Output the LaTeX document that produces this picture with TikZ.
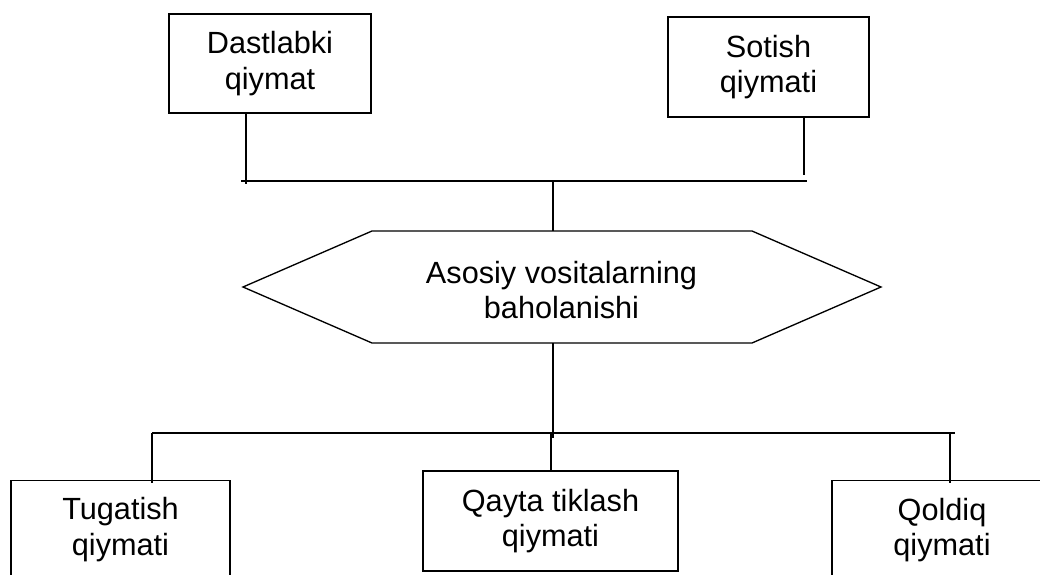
\documentclass[tikz,border=0pt]{standalone}
\usepackage{fontspec}
\setmainfont{Liberation Sans}
\begin{document}
\begin{tikzpicture}[x=0.75pt,y=-0.75pt, line width=1pt,
  box/.style={draw, rectangle, inner sep=0pt, align=center, font=\fontsize{23}{26.5}\selectfont},
  txt/.style={align=center, inner sep=0pt, font=\fontsize{23}{26.5}\selectfont}]
\useasboundingbox (0,0) rectangle (1040,575);
\clip (0,0) rectangle (1040,575);
% top boxes
\node[box, minimum width=151.5pt, minimum height=74.25pt] (dq) at (270,63.5) {Dastlabki\\qiymat};
\node[box, minimum width=150.75pt, minimum height=75pt] (sq) at (768.5,67) {Sotish\\qiymati};
% hexagon
\coordinate (h1) at (243,287);
\coordinate (h2) at (372,231);
\coordinate (h3) at (752,231);
\coordinate (h4) at (881,287);
\coordinate (h5) at (752,343);
\coordinate (h6) at (372,343);
\draw (h1) -- (h2) -- (h3) -- (h4) -- (h5) -- (h6) -- cycle;
\node[txt] (hex) at (561.5,290) {Asosiy vositalarning\\baholanishi};
% bottom boxes
\node[box, minimum width=164.25pt, minimum height=105pt, anchor=north] (tb) at (120.5,480) {};
\node[box, minimum width=191.25pt, minimum height=75pt] (qb) at (550.5,521) {Qayta tiklash\\qiymati};
\node[box, minimum width=165pt, minimum height=105pt, anchor=north] (rb) at (942,480) {};
\node[txt] (tt) at (120.5,529.5) {Tugatish\\qiymati};
\node[txt] (rt) at (942,530) {Qoldiq\\qiymati};
% top bus
\coordinate (bus1l) at (241,181);
\coordinate (bus1r) at (807,181);
\coordinate (v1) at (246,184);
\coordinate (v2) at (804,175);
\coordinate (ht) at (553,231);
\coordinate (hb) at (553,343);
\draw (bus1l) -- (bus1r);
\draw (v1 |- dq.south) -- (v1);
\draw (v2 |- sq.south) -- (v2);
\draw (ht |- bus1l) -- (ht);
% bottom bus
\coordinate (bus2l) at (152,433);
\coordinate (bus2r) at (955,433);
\coordinate (hbe) at (553,438);
\coordinate (w1) at (152,483);
\coordinate (w3) at (950,483);
\coordinate (w2) at (551,433);
\draw (bus2l) -- (bus2r);
\draw (hb) -- (hbe);
\draw (bus2l) -- (w1);
\draw (w2) -- (w2 |- qb.north);
\draw (w3 |- bus2l) -- (w3);
\end{tikzpicture}
\end{document}
